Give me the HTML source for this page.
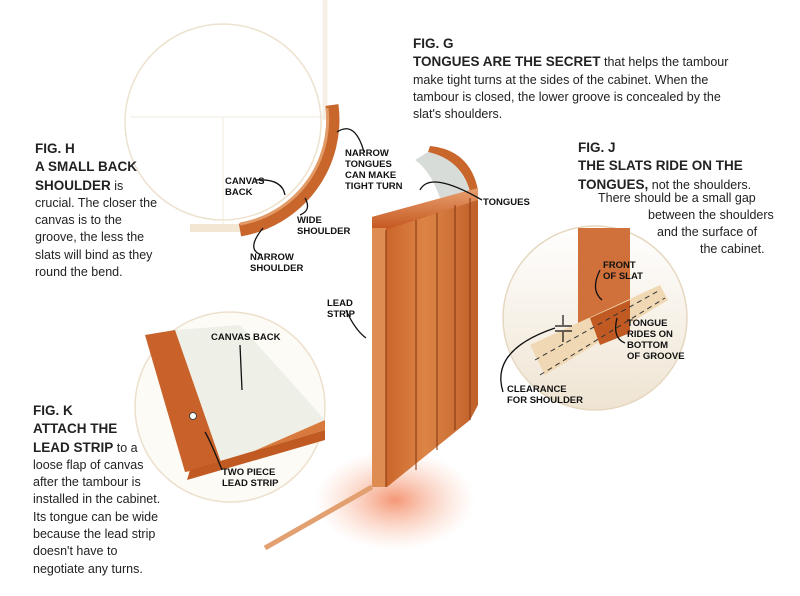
<!DOCTYPE html>
<html><head><meta charset="utf-8">
<style>
html,body{margin:0;padding:0;background:#fff;}
body{width:800px;height:596px;position:relative;overflow:hidden;font-family:"Liberation Sans",sans-serif;color:#222;}
.t{position:absolute;font-size:12.5px;line-height:17.3px;white-space:nowrap;}
.t b{font-size:13.5px;}
.l{position:absolute;font-size:9.5px;font-weight:bold;line-height:11px;white-space:nowrap;color:#111;}
svg{position:absolute;left:0;top:0;}
</style></head><body>
<svg width="800" height="596" viewBox="0 0 800 596">
<defs>
<radialGradient id="glow" cx="0.5" cy="0.5" r="0.5"><stop offset="0" stop-color="#f06a3a" stop-opacity="0.7"/><stop offset="1" stop-color="#f8b090" stop-opacity="0"/></radialGradient>
<linearGradient id="wood" x1="0" x2="1"><stop offset="0" stop-color="#c45a22"/><stop offset="0.5" stop-color="#dc8446"/><stop offset="1" stop-color="#c0602a"/></linearGradient>
<linearGradient id="cj" x1="0" y1="0" x2="0" y2="1"><stop offset="0" stop-color="#fff"/><stop offset="1" stop-color="#efe4d2"/></linearGradient>
<linearGradient id="slat" x1="0" y1="0" x2="0" y2="1"><stop offset="0" stop-color="#e8a070"/><stop offset="1" stop-color="#c4561e"/></linearGradient>
</defs>
<!-- FIG H -->
<line x1="325" y1="0" x2="325" y2="120" stroke="#f6f0e6" stroke-width="5"/>
<line x1="130" y1="117" x2="325" y2="117" stroke="#f0e8dc" stroke-width="1"/>
<line x1="223" y1="117" x2="223" y2="225" stroke="#f0e8dc" stroke-width="1"/>
<circle cx="223" cy="122" r="98" fill="none" stroke="#ede2cf" stroke-width="1.5"/>
<path d="M190 228 L240 228" stroke="#f3e6d2" stroke-width="8"/>
<path d="M332 105 A112 112 0 0 1 240 230" fill="none" stroke="#c8662c" stroke-width="13"/>
<path d="M327 108 A106 106 0 0 1 240 224" fill="none" stroke="#e29a66" stroke-width="3"/>
<!-- floor -->
<ellipse cx="395" cy="500" rx="80" ry="50" fill="url(#glow)"/>
<path d="M265 548 L372 487" stroke="#e2a070" stroke-width="5"/>
<!-- tambour curved top -->
<path d="M430 146 Q470 150 478 190 L470 192 Q462 160 428 152 Z" fill="#c8662c"/>
<path d="M428 152 Q462 160 470 192 L440 198 Q430 170 415 160 Z" fill="#d8dcd8"/>
<!-- panel -->
<polygon points="372,217 478,188 478,405 470,420 387,487 372,487" fill="url(#wood)"/>
<polygon points="372,217 478,188 478,200 385,230 372,230" fill="url(#slat)"/>
<rect x="372" y="228" width="14" height="259" fill="#df8c52"/>
<g stroke="#8a3a15" stroke-width="1.1">
<line x1="386" y1="230" x2="386" y2="487"/><line x1="416" y1="220" x2="416" y2="470"/>
<line x1="437" y1="213" x2="437" y2="450"/><line x1="455" y1="205" x2="455" y2="430"/>
<line x1="470" y1="198" x2="470" y2="420"/>
</g>
<!-- FIG J -->
<circle cx="595" cy="318" r="92" fill="url(#cj)" stroke="#e6d7c0" stroke-width="1.5"/>
<rect x="578" y="228" width="52" height="105" fill="#d0703a"/>
<polygon points="530,345 660,285 668,300 545,375" fill="#f0d8b4"/>
<polygon points="590,318 630,300 630,333 600,345" fill="#c05a22"/>
<line x1="540" y1="375" x2="665" y2="298" stroke="#333" stroke-dasharray="5,4"/>
<line x1="535" y1="360" x2="660" y2="290" stroke="#333" stroke-dasharray="5,4"/>
<g stroke="#111" stroke-width="1.2"><line x1="555" y1="326" x2="572" y2="326"/><line x1="555" y1="331" x2="572" y2="331"/><line x1="563" y1="315" x2="563" y2="325"/><line x1="563" y1="332" x2="563" y2="342"/></g>
<!-- FIG K -->
<circle cx="230" cy="407" r="95" fill="#fdfbf6" stroke="#ece0cc" stroke-width="1.5"/>
<polygon points="175,330 240,325 325,420 222,465" fill="#eef0e8"/>
<polygon points="145,335 175,330 222,465 185,472" fill="#c8622a"/>
<polygon points="185,472 222,465 325,420 325,430 190,470" fill="#d87a3e"/>
<polygon points="190,470 325,430 325,440 187,480" fill="#c05a22"/>
<circle cx="193" cy="416" r="3.5" fill="#fff" stroke="#444"/>
<!-- leaders -->
<g fill="none" stroke="#111" stroke-width="1.3">
<path d="M255 180 Q282 178 285 195"/><path d="M364 152 Q355 120 337 132"/>
<path d="M300 215 Q312 210 305 198"/><path d="M262 255 Q245 250 263 228"/>
<path d="M482 200 Q430 170 420 190"/><path d="M346 310 Q355 330 366 338"/>
<path d="M602 300 Q590 290 600 270"/><path d="M625 343 Q612 338 617 318"/>
<path d="M503 392 Q490 350 555 328"/><path d="M240 345 L242 390"/>
<path d="M222 470 Q210 440 205 432"/>
</g>
</svg>
<div class="t" style="left:413px;top:35px"><b>FIG. G</b><br><b>TONGUES ARE THE SECRET</b> that helps the tambour<br>make tight turns at the sides of the cabinet. When the<br>tambour is closed, the lower groove is concealed by the<br>slat's shoulders.</div>
<div class="t" style="left:35px;top:140px"><b>FIG. H</b><br><b>A SMALL BACK</b><br><b>SHOULDER</b> is<br>crucial. The closer the<br>canvas is to the<br>groove, the less the<br>slats will bind as they<br>round the bend.</div>
<div class="t" style="left:578px;top:139px"><b>FIG. J</b><br><b>THE SLATS RIDE ON THE</b><br><b>TONGUES,</b> not the shoulders.</div>
<div class="t" style="left:598px;top:190px">There should be a small gap</div>
<div class="t" style="left:648px;top:207px">between the shoulders</div>
<div class="t" style="left:657px;top:224px">and the surface of</div>
<div class="t" style="left:700px;top:241px">the cabinet.</div>
<div class="t" style="left:33px;top:402px"><b>FIG. K</b><br><b>ATTACH THE</b><br><b>LEAD STRIP</b> to a<br>loose flap of canvas<br>after the tambour is<br>installed in the cabinet.<br>Its tongue can be wide<br>because the lead strip<br>doesn't have to<br>negotiate any turns.</div>
<div class="l" style="left:225px;top:176px">CANVAS<br>BACK</div>
<div class="l" style="left:345px;top:148px">NARROW<br>TONGUES<br>CAN MAKE<br>TIGHT TURN</div>
<div class="l" style="left:297px;top:215px">WIDE<br>SHOULDER</div>
<div class="l" style="left:250px;top:252px">NARROW<br>SHOULDER</div>
<div class="l" style="left:483px;top:197px">TONGUES</div>
<div class="l" style="left:327px;top:298px">LEAD<br>STRIP</div>
<div class="l" style="left:603px;top:260px">FRONT<br>OF SLAT</div>
<div class="l" style="left:627px;top:318px">TONGUE<br>RIDES ON<br>BOTTOM<br>OF GROOVE</div>
<div class="l" style="left:507px;top:384px">CLEARANCE<br>FOR SHOULDER</div>
<div class="l" style="left:211px;top:332px">CANVAS BACK</div>
<div class="l" style="left:222px;top:467px">TWO PIECE<br>LEAD STRIP</div>
</body></html>
